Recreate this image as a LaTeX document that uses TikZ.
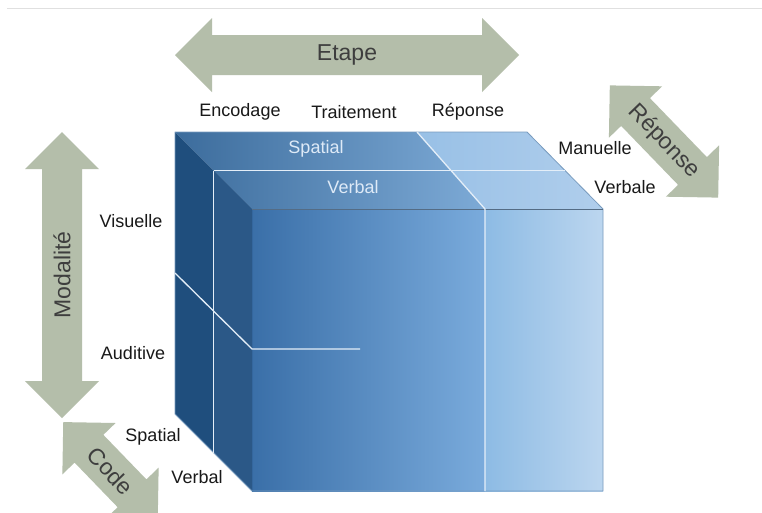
\documentclass[tikz,border=0pt]{standalone}
\usepackage{fontspec}
\setmainfont{Liberation Sans}
\definecolor{arrowfill}{RGB}{180,190,170}
\definecolor{arrowtxt}{RGB}{62,62,62}
\definecolor{labeltxt}{RGB}{25,25,25}
\definecolor{facetxt}{RGB}{222,234,247}
\definecolor{frontA}{RGB}{58,111,168}
\definecolor{frontB}{RGB}{122,171,220}
\definecolor{frontC}{RGB}{141,187,228}
\definecolor{frontD}{RGB}{188,214,239}
\definecolor{topA}{RGB}{60,108,156}
\definecolor{topB}{RGB}{125,170,214}
\definecolor{topC}{RGB}{152,192,230}
\definecolor{topD}{RGB}{176,206,236}
\definecolor{sideA}{RGB}{31,78,125}
\definecolor{sideB}{RGB}{43,88,135}
\definecolor{edgec}{RGB}{120,155,190}
\definecolor{splitc}{RGB}{228,238,248}
\tikzset{
  lab/.style={text=labeltxt,font=\fontsize{18}{21}\selectfont,inner sep=0pt},
  facelab/.style={text=facetxt,font=\fontsize{18}{21}\selectfont,inner sep=0pt},
  arrowlabel/.style={text=arrowtxt,font=\fontsize{23}{26}\selectfont,inner sep=0pt},
  splitline/.style={draw=splitc,line width=1.3pt},
}
\newcommand{\DArrow}[6]{%
  \begin{scope}[shift={(#1,#2)},rotate=#3]
    \fill[arrowfill] (-#4/2,0) -- (-#4/2+37,37) -- (-#4/2+37,20) -- (#4/2-37,20)
      -- (#4/2-37,37) -- (#4/2,0) -- (#4/2-37,-37) -- (#4/2-37,-20)
      -- (-#4/2+37,-20) -- (-#4/2+37,-37) -- cycle;
    \node[arrowlabel,transform shape] (#5) at (0,0) {#6};
  \end{scope}}
\begin{document}
\begin{tikzpicture}[x=1pt,y=-1pt]
\useasboundingbox (0,0) rectangle (762,512);
\clip (0,0) rectangle (762,512);
\fill[white] (0,0) rectangle (762,512);
% top rule
\coordinate (r1) at (7,8);
\coordinate (r2) at (762,8);
\draw[black!12,line width=1pt] (r1) -- (r2);

% cube corners
\coordinate (A) at (175,132);
\coordinate (B) at (527,132);
\coordinate (C) at (603,209);
\coordinate (D) at (252,209);
\coordinate (E) at (252,491);
\coordinate (F) at (603,491);
\coordinate (G) at (175,414);
\coordinate (M1) at (213.5,170.5);
\coordinate (M2) at (565,170.5);
\coordinate (M3) at (213.5,452.5);
\coordinate (P1) at (417,132);
\coordinate (P2) at (485,209);
\coordinate (P3) at (485,491);
\coordinate (Q1) at (175,273);
\coordinate (Q2) at (252,349);
\coordinate (Q3) at (360,349);

% faces
\shade[left color=frontA,right color=frontB] (D) rectangle (P3);
\shade[left color=frontC,right color=frontD] (P2) rectangle (F);
\shade[left color=topA,right color=topB] (A) -- (P1) -- (P2) -- (D) -- cycle;
\shade[left color=topC,right color=topD] (P1) -- (B) -- (C) -- (P2) -- cycle;
\fill[sideA] (A) -- (D) -- (E) -- (G) -- cycle;
\fill[sideB] (M1) -- (D) -- (E) -- (M3) -- cycle;
% outline
\draw[edgec,line width=0.8pt,line join=round] (A) -- (B) -- (C) -- (F) -- (E) -- (G) -- cycle;
\draw[edgec!70!black,line width=0.6pt] (D) -- (C);
% split lines
\draw[splitline] (M1) -- (M2);
\draw[splitline] (M1) -- (M3);
\draw[splitline] (P1) -- (P2) -- (P3);
\draw[splitline] (Q1) -- (Q2) -- (Q3);

% face labels
\node[facelab] (tSpatial) at (316,149) {Spatial};
\node[facelab] (tVerbal) at (353,187) {Verbal};

% arrows
\DArrow{347}{55}{0}{344}{etape}{Etape}
\DArrow{62}{275}{90}{286}{modalite}{Modalité}
\DArrow{664}{141.5}{-46}{156}{reponse}{Réponse}
\DArrow{110.5}{471}{-46}{136}{code}{Code}

% labels
\node[lab] (encodage) at (240,112) {Encodage};
\node[lab] (traitement) at (354,112) {Traitement};
\node[lab] (reponseE) at (468,112) {Réponse};
\node[lab] (manuelle) at (595,148) {Manuelle};
\node[lab] (verbale) at (625,187) {Verbale};
\node[lab] (visuelle) at (131,221) {Visuelle};
\node[lab] (auditive) at (133,353) {Auditive};
\node[lab] (cSpatial) at (153,437) {Spatial};
\node[lab] (cVerbal) at (197,477) {Verbal};
\end{tikzpicture}
\end{document}
